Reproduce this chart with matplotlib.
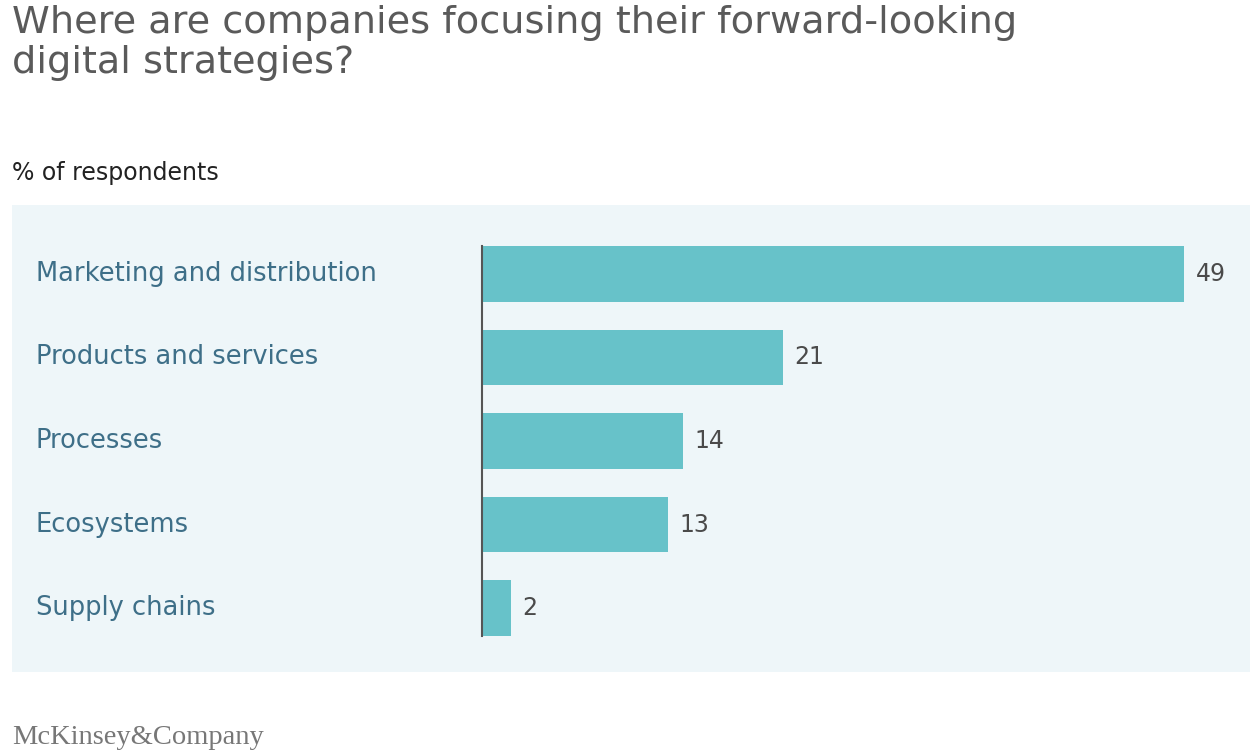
import matplotlib.pyplot as plt
from matplotlib.patches import Rectangle

categories = ["Marketing and distribution", "Products and services", "Processes",
              "Ecosystems", "Supply chains"]
values = [49, 21, 14, 13, 2]

W, H = 1259, 754
fig = plt.figure(figsize=(W / 100, H / 100), dpi=100)
plt.rcParams['font.family'] = ['DejaVu Sans']

# panel background
fig.patches.append(Rectangle((12 / W, 1 - 672 / H), (1250 - 12) / W, (672 - 205) / H,
                             transform=fig.transFigure, facecolor='#eef6f9',
                             edgecolor='none', zorder=0))

ax = fig.add_axes([482 / W, 1 - 636 / H, (1250 - 482) / W, (636 - 246) / H])
ax.set_zorder(2)
ax.set_facecolor('none')
ypos = list(range(len(categories)))
ax.barh(ypos, values, height=0.66, color='#67c2c9')
ax.set_xlim(0, (1250 - 482) / (702 / 49))
ax.set_ylim(4.335, -0.335)
for y, v in zip(ypos, values):
    ax.text(v + 0.8, y, str(v), va='center', ha='left', fontsize=17, color='#4a4a4a')
for s in ['top', 'right', 'bottom']:
    ax.spines[s].set_visible(False)
ax.spines['left'].set_color('#555555')
ax.spines['left'].set_linewidth(1.5)
ax.set_xticks([])
ax.set_yticks([])

for y, c in zip(ypos, categories):
    yf = 1 - (274 + y * 83.5) / H
    fig.text(36 / W, yf, c, va='center', ha='left', fontsize=18.5, color='#3e6f88', zorder=3)

fig.text(12 / W, 1 - 5 / H, "Where are companies focusing their forward-looking\ndigital strategies?",
         va='top', ha='left', fontsize=27.5, color='#5a5a5a', linespacing=1.15)
fig.text(12 / W, 1 - 173 / H, "% of respondents", va='center', ha='left', fontsize=17,
         color='#222222')
fig.text(12 / W, 1 - 737 / H, "McKinsey&Company", va='center', ha='left', fontsize=20.5,
         color='#777777', family=['Liberation Serif', 'DejaVu Serif'])

fig.savefig('out.png', dpi=100)
